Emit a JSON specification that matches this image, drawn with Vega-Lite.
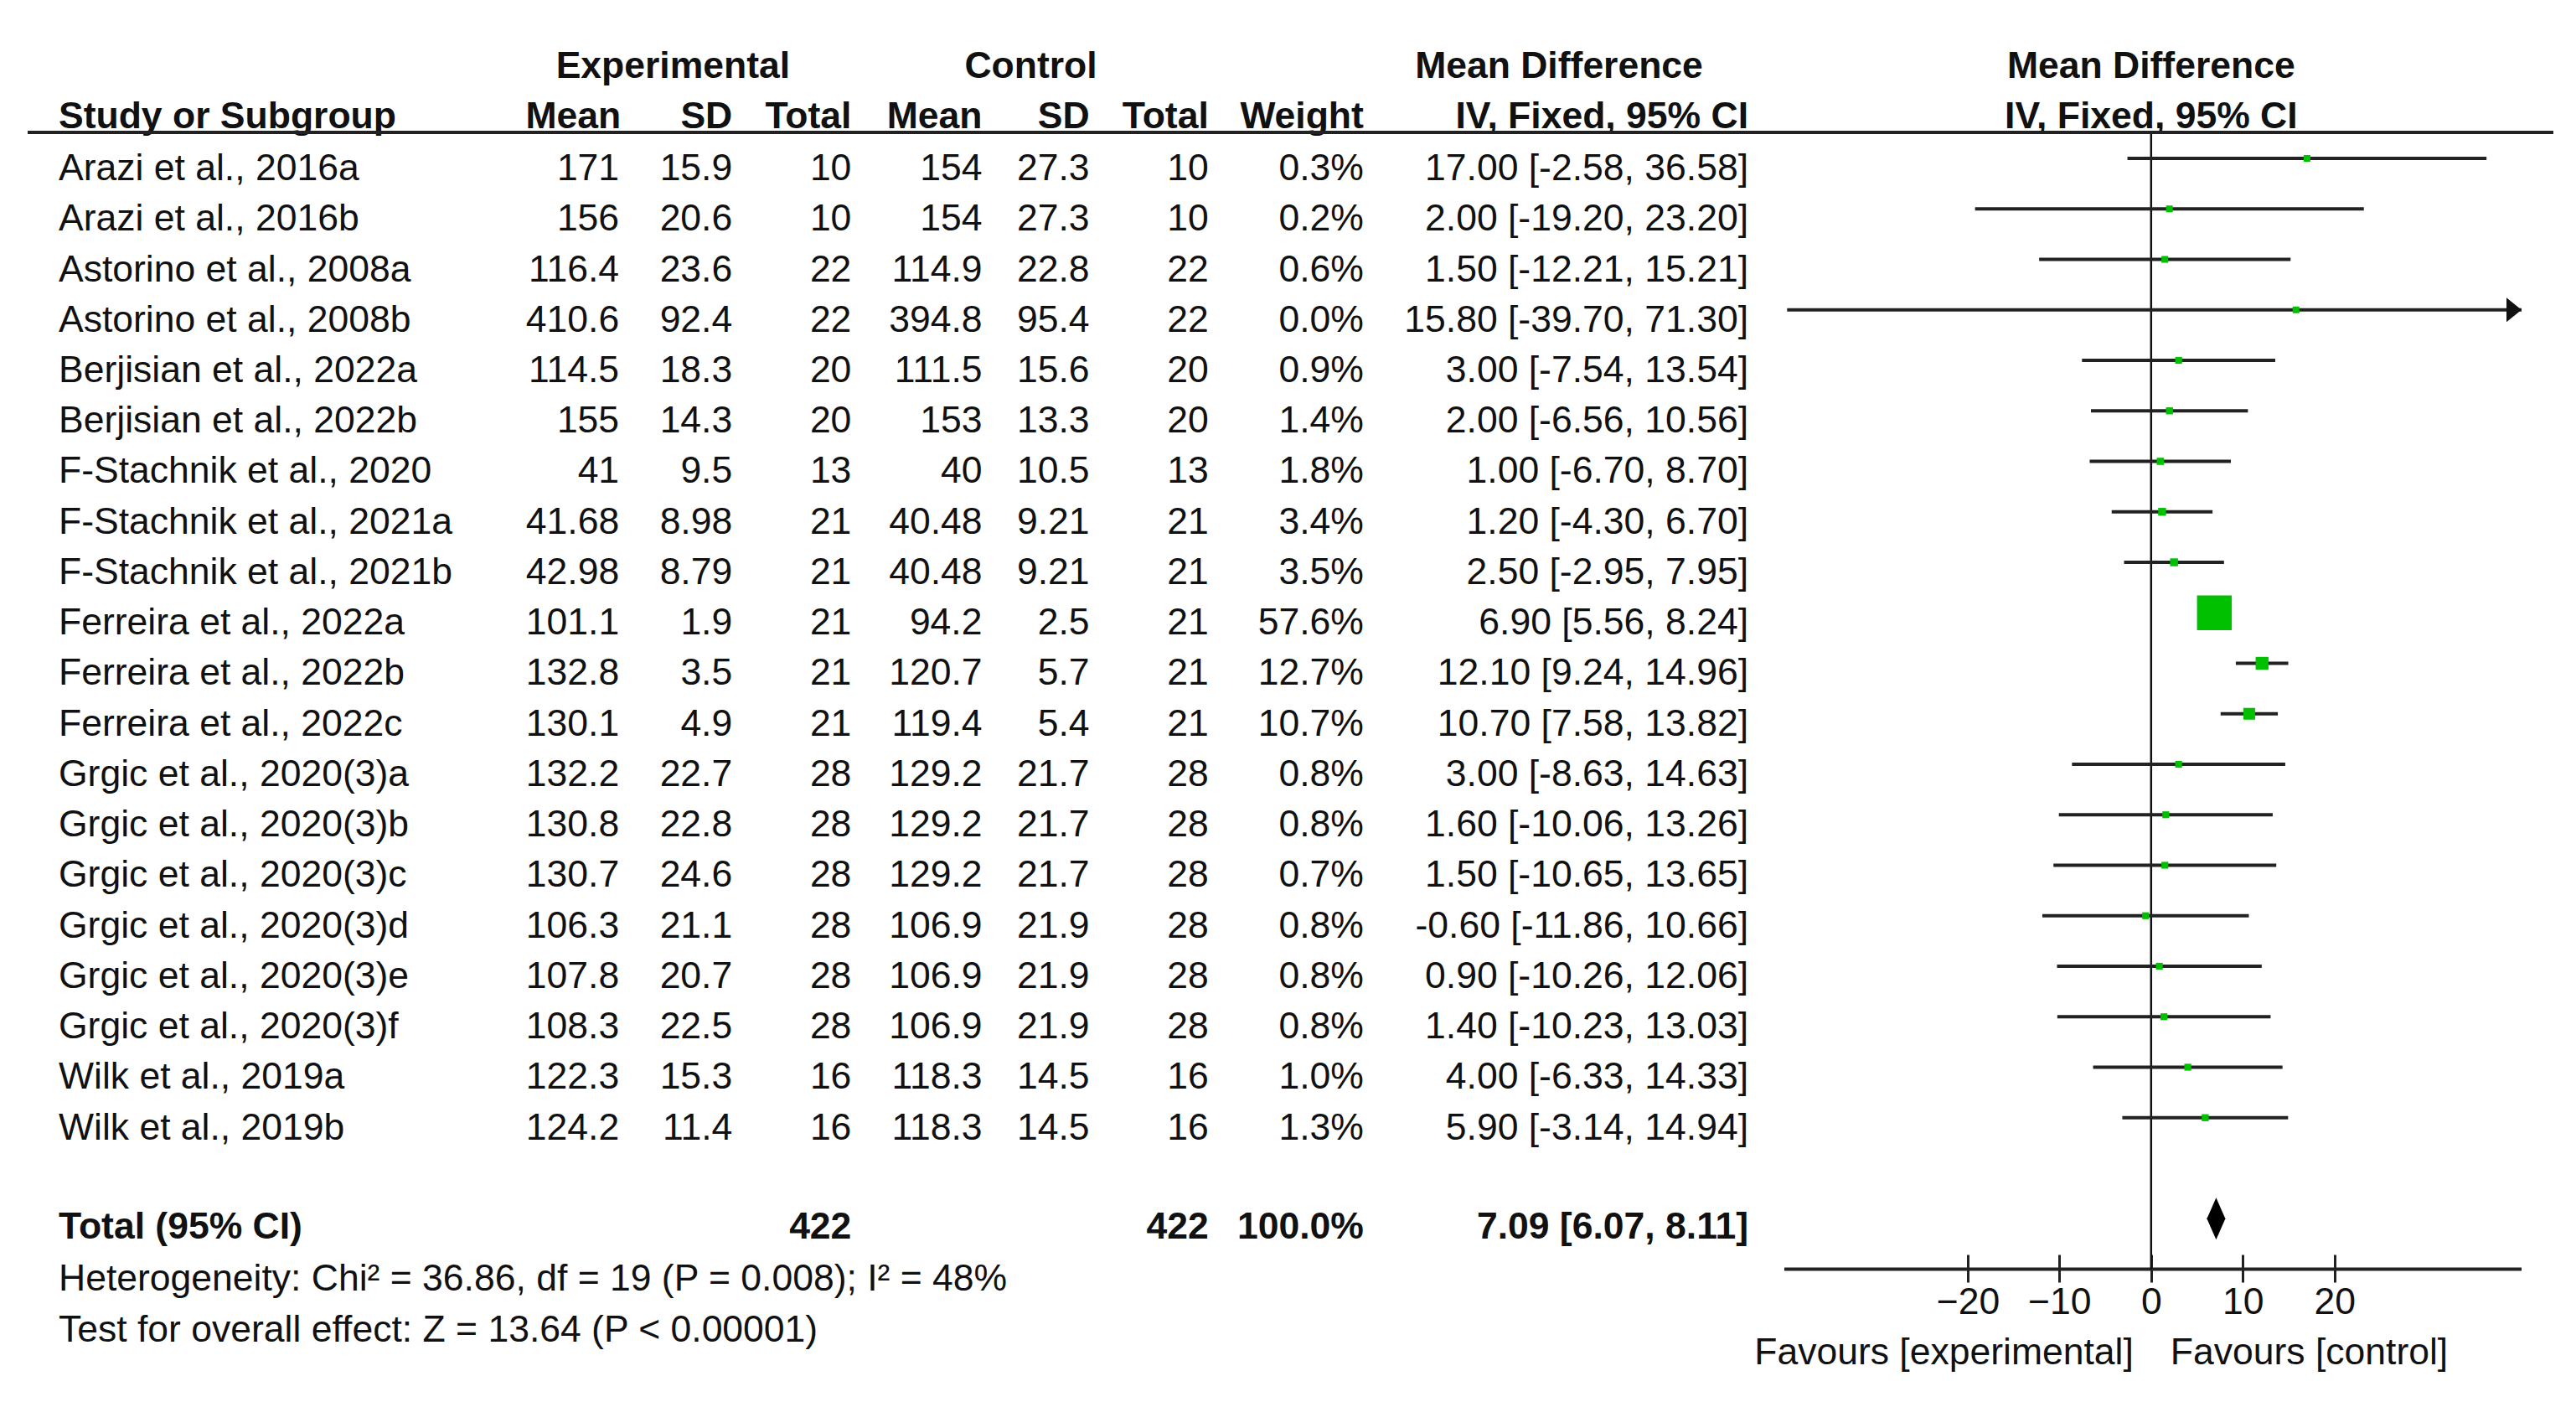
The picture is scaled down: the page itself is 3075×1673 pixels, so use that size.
{
  "$schema": "https://vega.github.io/schema/vega-lite/v6.json",
  "width": 3015,
  "height": 1673,
  "autosize": {"type": "none"},
  "padding": {"left": 33, "right": 27, "top": 0, "bottom": 0},
  "background": "white",
  "config": {
    "view": {"stroke": null},
    "text": {"font": "Liberation Sans, Arial, sans-serif", "fontSize": 44.5, "color": "#111111"}
  },
  "datasets": {
    "table": [
      {"kind": "header", "row": 0, "study": "Study or Subgroup", "mean_e": "Mean", "sd_e": "SD", "total_e": "Total", "mean_c": "Mean", "sd_c": "SD", "total_c": "Total", "weight": "Weight", "ci": "IV, Fixed, 95% CI"},
      {"kind": "study", "row": 1, "study": "Arazi et al., 2016a", "mean_e": 171, "sd_e": 15.9, "total_e": 10, "mean_c": 154, "sd_c": 27.3, "total_c": 10, "weight": "0.3%", "ci": "17.00 [-2.58, 36.58]", "w": 0.3, "md": 17.0, "lo": -2.58, "hi": 36.58},
      {"kind": "study", "row": 2, "study": "Arazi et al., 2016b", "mean_e": 156, "sd_e": 20.6, "total_e": 10, "mean_c": 154, "sd_c": 27.3, "total_c": 10, "weight": "0.2%", "ci": "2.00 [-19.20, 23.20]", "w": 0.2, "md": 2.0, "lo": -19.2, "hi": 23.2},
      {"kind": "study", "row": 3, "study": "Astorino et al., 2008a", "mean_e": 116.4, "sd_e": 23.6, "total_e": 22, "mean_c": 114.9, "sd_c": 22.8, "total_c": 22, "weight": "0.6%", "ci": "1.50 [-12.21, 15.21]", "w": 0.6, "md": 1.5, "lo": -12.21, "hi": 15.21},
      {"kind": "study", "row": 4, "study": "Astorino et al., 2008b", "mean_e": 410.6, "sd_e": 92.4, "total_e": 22, "mean_c": 394.8, "sd_c": 95.4, "total_c": 22, "weight": "0.0%", "ci": "15.80 [-39.70, 71.30]", "w": 0.0, "md": 15.8, "lo": -39.7, "hi": 71.3},
      {"kind": "study", "row": 5, "study": "Berjisian et al., 2022a", "mean_e": 114.5, "sd_e": 18.3, "total_e": 20, "mean_c": 111.5, "sd_c": 15.6, "total_c": 20, "weight": "0.9%", "ci": "3.00 [-7.54, 13.54]", "w": 0.9, "md": 3.0, "lo": -7.54, "hi": 13.54},
      {"kind": "study", "row": 6, "study": "Berjisian et al., 2022b", "mean_e": 155, "sd_e": 14.3, "total_e": 20, "mean_c": 153, "sd_c": 13.3, "total_c": 20, "weight": "1.4%", "ci": "2.00 [-6.56, 10.56]", "w": 1.4, "md": 2.0, "lo": -6.56, "hi": 10.56},
      {"kind": "study", "row": 7, "study": "F-Stachnik et al., 2020", "mean_e": 41, "sd_e": 9.5, "total_e": 13, "mean_c": 40, "sd_c": 10.5, "total_c": 13, "weight": "1.8%", "ci": "1.00 [-6.70, 8.70]", "w": 1.8, "md": 1.0, "lo": -6.7, "hi": 8.7},
      {"kind": "study", "row": 8, "study": "F-Stachnik et al., 2021a", "mean_e": 41.68, "sd_e": 8.98, "total_e": 21, "mean_c": 40.48, "sd_c": 9.21, "total_c": 21, "weight": "3.4%", "ci": "1.20 [-4.30, 6.70]", "w": 3.4, "md": 1.2, "lo": -4.3, "hi": 6.7},
      {"kind": "study", "row": 9, "study": "F-Stachnik et al., 2021b", "mean_e": 42.98, "sd_e": 8.79, "total_e": 21, "mean_c": 40.48, "sd_c": 9.21, "total_c": 21, "weight": "3.5%", "ci": "2.50 [-2.95, 7.95]", "w": 3.5, "md": 2.5, "lo": -2.95, "hi": 7.95},
      {"kind": "study", "row": 10, "study": "Ferreira et al., 2022a", "mean_e": 101.1, "sd_e": 1.9, "total_e": 21, "mean_c": 94.2, "sd_c": 2.5, "total_c": 21, "weight": "57.6%", "ci": "6.90 [5.56, 8.24]", "w": 57.6, "md": 6.9, "lo": 5.56, "hi": 8.24},
      {"kind": "study", "row": 11, "study": "Ferreira et al., 2022b", "mean_e": 132.8, "sd_e": 3.5, "total_e": 21, "mean_c": 120.7, "sd_c": 5.7, "total_c": 21, "weight": "12.7%", "ci": "12.10 [9.24, 14.96]", "w": 12.7, "md": 12.1, "lo": 9.24, "hi": 14.96},
      {"kind": "study", "row": 12, "study": "Ferreira et al., 2022c", "mean_e": 130.1, "sd_e": 4.9, "total_e": 21, "mean_c": 119.4, "sd_c": 5.4, "total_c": 21, "weight": "10.7%", "ci": "10.70 [7.58, 13.82]", "w": 10.7, "md": 10.7, "lo": 7.58, "hi": 13.82},
      {"kind": "study", "row": 13, "study": "Grgic et al., 2020(3)a", "mean_e": 132.2, "sd_e": 22.7, "total_e": 28, "mean_c": 129.2, "sd_c": 21.7, "total_c": 28, "weight": "0.8%", "ci": "3.00 [-8.63, 14.63]", "w": 0.8, "md": 3.0, "lo": -8.63, "hi": 14.63},
      {"kind": "study", "row": 14, "study": "Grgic et al., 2020(3)b", "mean_e": 130.8, "sd_e": 22.8, "total_e": 28, "mean_c": 129.2, "sd_c": 21.7, "total_c": 28, "weight": "0.8%", "ci": "1.60 [-10.06, 13.26]", "w": 0.8, "md": 1.6, "lo": -10.06, "hi": 13.26},
      {"kind": "study", "row": 15, "study": "Grgic et al., 2020(3)c", "mean_e": 130.7, "sd_e": 24.6, "total_e": 28, "mean_c": 129.2, "sd_c": 21.7, "total_c": 28, "weight": "0.7%", "ci": "1.50 [-10.65, 13.65]", "w": 0.7, "md": 1.5, "lo": -10.65, "hi": 13.65},
      {"kind": "study", "row": 16, "study": "Grgic et al., 2020(3)d", "mean_e": 106.3, "sd_e": 21.1, "total_e": 28, "mean_c": 106.9, "sd_c": 21.9, "total_c": 28, "weight": "0.8%", "ci": "-0.60 [-11.86, 10.66]", "w": 0.8, "md": -0.6, "lo": -11.86, "hi": 10.66},
      {"kind": "study", "row": 17, "study": "Grgic et al., 2020(3)e", "mean_e": 107.8, "sd_e": 20.7, "total_e": 28, "mean_c": 106.9, "sd_c": 21.9, "total_c": 28, "weight": "0.8%", "ci": "0.90 [-10.26, 12.06]", "w": 0.8, "md": 0.9, "lo": -10.26, "hi": 12.06},
      {"kind": "study", "row": 18, "study": "Grgic et al., 2020(3)f", "mean_e": 108.3, "sd_e": 22.5, "total_e": 28, "mean_c": 106.9, "sd_c": 21.9, "total_c": 28, "weight": "0.8%", "ci": "1.40 [-10.23, 13.03]", "w": 0.8, "md": 1.4, "lo": -10.23, "hi": 13.03},
      {"kind": "study", "row": 19, "study": "Wilk et al., 2019a", "mean_e": 122.3, "sd_e": 15.3, "total_e": 16, "mean_c": 118.3, "sd_c": 14.5, "total_c": 16, "weight": "1.0%", "ci": "4.00 [-6.33, 14.33]", "w": 1.0, "md": 4.0, "lo": -6.33, "hi": 14.33},
      {"kind": "study", "row": 20, "study": "Wilk et al., 2019b", "mean_e": 124.2, "sd_e": 11.4, "total_e": 16, "mean_c": 118.3, "sd_c": 14.5, "total_c": 16, "weight": "1.3%", "ci": "5.90 [-3.14, 14.94]", "w": 1.3, "md": 5.9, "lo": -3.14, "hi": 14.94},
      {"kind": "total", "row": 22, "study": "Total (95% CI)", "mean_e": "", "sd_e": "", "total_e": 422, "mean_c": "", "sd_c": "", "total_c": 422, "weight": "100.0%", "ci": "7.09 [6.07, 8.11]", "w": 100, "md": 7.09, "lo": 6.07, "hi": 8.11}
    ],
    "notes": [
      {"row": 23, "label": "Heterogeneity: Chi² = 36.86, df = 19 (P = 0.008); I² = 48%"},
      {"row": 24, "label": "Test for overall effect: Z = 13.64 (P < 0.00001)"}
    ],
    "groups": [
      {"row": -1, "group": "Experimental"},
      {"row": -1, "group": "Control"},
      {"row": -1, "group": "Mean Difference"}
    ],
    "plotheads": [
      {"row": -1, "label": "Mean Difference"},
      {"row": 0, "label": "IV, Fixed, 95% CI"}
    ],
    "favours": [
      {"row": 24.5, "side": "experimental", "label": "Favours [experimental]"},
      {"row": 24.5, "side": "control", "label": "Favours [control]"}
    ],
    "lines": [
      {"name": "header", "y": 0.485},
      {"name": "zero", "x": 0, "y": 0.485, "y2": 23},
      {"name": "axis", "x": -40, "x2": 40.4, "y": 23}
    ]
  },
  "layer": [
    {
      "layer": [
        {
          "data": {"name": "lines"},
          "transform": [{"filter": "datum.name == 'axis'"}],
          "mark": {"type": "rule", "strokeWidth": 4, "color": "#222222"},
          "encoding": {
            "x": {
              "field": "x",
              "type": "quantitative",
              "scale": {"domain": [-40, 40.4], "range": [2097, 2977], "clamp": true, "nice": false, "zero": false},
              "axis": {
                "orient": "bottom",
                "values": [-20, -10, 0, 10, 20],
                "offset": -176,
                "domain": false,
                "grid": false,
                "title": null,
                "ticks": true,
                "labels": true,
                "tickSize": 33,
                "tickWidth": 3,
                "tickColor": "#222222",
                "labelFont": "Liberation Sans, Arial, sans-serif",
                "labelFontSize": 44.5,
                "labelColor": "#111111",
                "labelPadding": 2,
                "labelFlush": false,
                "labelOverlap": false
              }
            },
            "x2": {"field": "x2"},
            "y": {"field": "y", "type": "quantitative", "scale": {"domain": [-2.137, 25.631], "reverse": true, "nice": false, "zero": false}, "axis": null}
          }
        },
        {
          "data": {"name": "lines"},
          "transform": [{"filter": "datum.name == 'zero'"}],
          "mark": {"type": "rule", "strokeWidth": 2.5, "color": "#111111"},
          "encoding": {
            "x": {"field": "x", "type": "quantitative"},
            "y": {"field": "y", "type": "quantitative", "axis": null},
            "y2": {"field": "y2"}
          }
        },
        {
          "data": {"name": "table"},
          "transform": [{"filter": "datum.kind == 'study'"}],
          "mark": {"type": "rule", "strokeWidth": 4, "color": "#222222"},
          "encoding": {
            "x": {"field": "lo", "type": "quantitative"},
            "x2": {"field": "hi"},
            "y": {"field": "row", "type": "quantitative", "axis": null}
          }
        },
        {
          "data": {"name": "table"},
          "transform": [{"filter": "datum.kind == 'study' && datum.hi > 40.4"}],
          "mark": {"type": "point", "shape": "M-2,-1.6L0,0L-2,1.6Z", "size": 324, "filled": true, "opacity": 1, "color": "#111111", "strokeWidth": 0},
          "encoding": {
            "x": {"field": "hi", "type": "quantitative"},
            "y": {"field": "row", "type": "quantitative", "axis": null}
          }
        },
        {
          "data": {"name": "table"},
          "transform": [{"filter": "datum.kind == 'study'"}],
          "mark": {"type": "point", "shape": "square", "filled": true, "opacity": 1, "color": "#00c000", "strokeWidth": 0},
          "encoding": {
            "x": {"field": "md", "type": "quantitative"},
            "y": {"field": "row", "type": "quantitative", "axis": null},
            "size": {"field": "w", "type": "quantitative", "scale": {"type": "pow", "exponent": 1.5, "domain": [0, 57.6], "range": [64, 1722]}, "legend": null}
          }
        },
        {
          "data": {"name": "table"},
          "transform": [{"filter": "datum.kind == 'total'"}],
          "mark": {"type": "point", "shape": "M-1,0L0,-2.27L1,0L0,2.27Z", "size": 484, "filled": true, "opacity": 1, "color": "#000000", "strokeWidth": 0},
          "encoding": {
            "x": {"field": "md", "type": "quantitative"},
            "y": {"field": "row", "type": "quantitative", "axis": null}
          }
        },
        {
          "data": {"name": "plotheads"},
          "mark": {"type": "text", "align": "center", "baseline": "alphabetic", "dy": 24, "fontWeight": "bold"},
          "encoding": {
            "x": {"datum": 0, "type": "quantitative"},
            "y": {"field": "row", "type": "quantitative", "axis": null},
            "text": {"field": "label", "type": "nominal"}
          }
        },
        {
          "data": {"name": "favours"},
          "transform": [{"filter": "datum.side == 'experimental'"}],
          "mark": {"type": "text", "align": "right", "baseline": "alphabetic", "dx": -21, "dy": 23},
          "encoding": {
            "x": {"datum": 0, "type": "quantitative"},
            "y": {"field": "row", "type": "quantitative", "axis": null},
            "text": {"field": "label", "type": "nominal"}
          }
        },
        {
          "data": {"name": "favours"},
          "transform": [{"filter": "datum.side == 'control'"}],
          "mark": {"type": "text", "align": "left", "baseline": "alphabetic", "dx": 23, "dy": 23},
          "encoding": {
            "x": {"datum": 0, "type": "quantitative"},
            "y": {"field": "row", "type": "quantitative", "axis": null},
            "text": {"field": "label", "type": "nominal"}
          }
        }
      ]
    },
    {
      "layer": [
        {
          "data": {"name": "table"},
          "transform": [{"filter": "datum.kind == 'study'"}],
          "mark": {"type": "text", "align": "left", "baseline": "alphabetic", "dx": 0, "dy": 26},
          "encoding": {
            "x": {"datum": "study", "type": "nominal", "scale": {"type": "point", "domain": ["study", "mean_e", "sd_e", "total_e", "mean_c", "sd_c", "total_c", "weight", "ci"], "range": [37, 2054], "padding": 0}, "axis": null},
            "y": {"field": "row", "type": "quantitative", "axis": null},
            "text": {"field": "study", "type": "nominal"}
          }
        },
        {
          "data": {"name": "table"},
          "transform": [{"filter": "datum.kind != 'study'"}],
          "mark": {"type": "text", "align": "left", "baseline": "alphabetic", "dx": 0, "dy": 24, "fontWeight": "bold"},
          "encoding": {
            "x": {"datum": "study", "type": "nominal", "axis": null},
            "y": {"field": "row", "type": "quantitative", "axis": null},
            "text": {"field": "study", "type": "nominal"}
          }
        },
        {
          "data": {"name": "table"},
          "transform": [{"filter": "datum.kind == 'study'"}],
          "mark": {"type": "text", "align": "right", "baseline": "alphabetic", "dx": 417, "dy": 26},
          "encoding": {
            "x": {"datum": "mean_e", "type": "nominal", "axis": null},
            "y": {"field": "row", "type": "quantitative", "axis": null},
            "text": {"field": "mean_e", "type": "nominal"}
          }
        },
        {
          "data": {"name": "table"},
          "transform": [{"filter": "datum.kind != 'study'"}],
          "mark": {"type": "text", "align": "right", "baseline": "alphabetic", "dx": 419, "dy": 24, "fontWeight": "bold"},
          "encoding": {
            "x": {"datum": "mean_e", "type": "nominal", "axis": null},
            "y": {"field": "row", "type": "quantitative", "axis": null},
            "text": {"field": "mean_e", "type": "nominal"}
          }
        },
        {
          "data": {"name": "table"},
          "transform": [{"filter": "datum.kind == 'study'"}],
          "mark": {"type": "text", "align": "right", "baseline": "alphabetic", "dx": 300, "dy": 26},
          "encoding": {
            "x": {"datum": "sd_e", "type": "nominal", "axis": null},
            "y": {"field": "row", "type": "quantitative", "axis": null},
            "text": {"field": "sd_e", "type": "nominal"}
          }
        },
        {
          "data": {"name": "table"},
          "transform": [{"filter": "datum.kind != 'study'"}],
          "mark": {"type": "text", "align": "right", "baseline": "alphabetic", "dx": 300, "dy": 24, "fontWeight": "bold"},
          "encoding": {
            "x": {"datum": "sd_e", "type": "nominal", "axis": null},
            "y": {"field": "row", "type": "quantitative", "axis": null},
            "text": {"field": "sd_e", "type": "nominal"}
          }
        },
        {
          "data": {"name": "table"},
          "transform": [{"filter": "datum.kind == 'study'"}],
          "mark": {"type": "text", "align": "right", "baseline": "alphabetic", "dx": 190, "dy": 26},
          "encoding": {
            "x": {"datum": "total_e", "type": "nominal", "axis": null},
            "y": {"field": "row", "type": "quantitative", "axis": null},
            "text": {"field": "total_e", "type": "nominal"}
          }
        },
        {
          "data": {"name": "table"},
          "transform": [{"filter": "datum.kind != 'study'"}],
          "mark": {"type": "text", "align": "right", "baseline": "alphabetic", "dx": 190, "dy": 24, "fontWeight": "bold"},
          "encoding": {
            "x": {"datum": "total_e", "type": "nominal", "axis": null},
            "y": {"field": "row", "type": "quantitative", "axis": null},
            "text": {"field": "total_e", "type": "nominal"}
          }
        },
        {
          "data": {"name": "table"},
          "transform": [{"filter": "datum.kind == 'study'"}],
          "mark": {"type": "text", "align": "right", "baseline": "alphabetic", "dx": 94, "dy": 26},
          "encoding": {
            "x": {"datum": "mean_c", "type": "nominal", "axis": null},
            "y": {"field": "row", "type": "quantitative", "axis": null},
            "text": {"field": "mean_c", "type": "nominal"}
          }
        },
        {
          "data": {"name": "table"},
          "transform": [{"filter": "datum.kind != 'study'"}],
          "mark": {"type": "text", "align": "right", "baseline": "alphabetic", "dx": 94, "dy": 24, "fontWeight": "bold"},
          "encoding": {
            "x": {"datum": "mean_c", "type": "nominal", "axis": null},
            "y": {"field": "row", "type": "quantitative", "axis": null},
            "text": {"field": "mean_c", "type": "nominal"}
          }
        },
        {
          "data": {"name": "table"},
          "transform": [{"filter": "datum.kind == 'study'"}],
          "mark": {"type": "text", "align": "right", "baseline": "alphabetic", "dx": -30, "dy": 26},
          "encoding": {
            "x": {"datum": "sd_c", "type": "nominal", "axis": null},
            "y": {"field": "row", "type": "quantitative", "axis": null},
            "text": {"field": "sd_c", "type": "nominal"}
          }
        },
        {
          "data": {"name": "table"},
          "transform": [{"filter": "datum.kind != 'study'"}],
          "mark": {"type": "text", "align": "right", "baseline": "alphabetic", "dx": -30, "dy": 24, "fontWeight": "bold"},
          "encoding": {
            "x": {"datum": "sd_c", "type": "nominal", "axis": null},
            "y": {"field": "row", "type": "quantitative", "axis": null},
            "text": {"field": "sd_c", "type": "nominal"}
          }
        },
        {
          "data": {"name": "table"},
          "transform": [{"filter": "datum.kind == 'study'"}],
          "mark": {"type": "text", "align": "right", "baseline": "alphabetic", "dx": -140, "dy": 26},
          "encoding": {
            "x": {"datum": "total_c", "type": "nominal", "axis": null},
            "y": {"field": "row", "type": "quantitative", "axis": null},
            "text": {"field": "total_c", "type": "nominal"}
          }
        },
        {
          "data": {"name": "table"},
          "transform": [{"filter": "datum.kind != 'study'"}],
          "mark": {"type": "text", "align": "right", "baseline": "alphabetic", "dx": -140, "dy": 24, "fontWeight": "bold"},
          "encoding": {
            "x": {"datum": "total_c", "type": "nominal", "axis": null},
            "y": {"field": "row", "type": "quantitative", "axis": null},
            "text": {"field": "total_c", "type": "nominal"}
          }
        },
        {
          "data": {"name": "table"},
          "transform": [{"filter": "datum.kind == 'study'"}],
          "mark": {"type": "text", "align": "right", "baseline": "alphabetic", "dx": -207, "dy": 26},
          "encoding": {
            "x": {"datum": "weight", "type": "nominal", "axis": null},
            "y": {"field": "row", "type": "quantitative", "axis": null},
            "text": {"field": "weight", "type": "nominal"}
          }
        },
        {
          "data": {"name": "table"},
          "transform": [{"filter": "datum.kind != 'study'"}],
          "mark": {"type": "text", "align": "right", "baseline": "alphabetic", "dx": -207, "dy": 24, "fontWeight": "bold"},
          "encoding": {
            "x": {"datum": "weight", "type": "nominal", "axis": null},
            "y": {"field": "row", "type": "quantitative", "axis": null},
            "text": {"field": "weight", "type": "nominal"}
          }
        },
        {
          "data": {"name": "table"},
          "transform": [{"filter": "datum.kind == 'study'"}],
          "mark": {"type": "text", "align": "right", "baseline": "alphabetic", "dx": 0, "dy": 26},
          "encoding": {
            "x": {"datum": "ci", "type": "nominal", "axis": null},
            "y": {"field": "row", "type": "quantitative", "axis": null},
            "text": {"field": "ci", "type": "nominal"}
          }
        },
        {
          "data": {"name": "table"},
          "transform": [{"filter": "datum.kind != 'study'"}],
          "mark": {"type": "text", "align": "right", "baseline": "alphabetic", "dx": 0, "dy": 24, "fontWeight": "bold"},
          "encoding": {
            "x": {"datum": "ci", "type": "nominal", "axis": null},
            "y": {"field": "row", "type": "quantitative", "axis": null},
            "text": {"field": "ci", "type": "nominal"}
          }
        },
        {
          "data": {"name": "groups"},
          "transform": [{"filter": "datum.group == 'Experimental'"}],
          "mark": {"type": "text", "align": "center", "baseline": "alphabetic", "dx": -23, "dy": 24, "fontWeight": "bold"},
          "encoding": {
            "x": {"datum": "total_e", "type": "nominal", "axis": null},
            "y": {"field": "row", "type": "quantitative", "axis": null},
            "text": {"field": "group", "type": "nominal"}
          }
        },
        {
          "data": {"name": "groups"},
          "transform": [{"filter": "datum.group == 'Control'"}],
          "mark": {"type": "text", "align": "center", "baseline": "alphabetic", "dx": 152, "dy": 24, "fontWeight": "bold"},
          "encoding": {
            "x": {"datum": "mean_c", "type": "nominal", "axis": null},
            "y": {"field": "row", "type": "quantitative", "axis": null},
            "text": {"field": "group", "type": "nominal"}
          }
        },
        {
          "data": {"name": "groups"},
          "transform": [{"filter": "datum.group == 'Mean Difference'"}],
          "mark": {"type": "text", "align": "center", "baseline": "alphabetic", "dx": -226, "dy": 24, "fontWeight": "bold"},
          "encoding": {
            "x": {"datum": "ci", "type": "nominal", "axis": null},
            "y": {"field": "row", "type": "quantitative", "axis": null},
            "text": {"field": "group", "type": "nominal"}
          }
        },
        {
          "data": {"name": "notes"},
          "mark": {"type": "text", "align": "left", "baseline": "alphabetic", "dx": 0, "dy": 26},
          "encoding": {
            "x": {"datum": "study", "type": "nominal", "axis": null},
            "y": {"field": "row", "type": "quantitative", "axis": null},
            "text": {"field": "label", "type": "nominal"}
          }
        }
      ]
    },
    {
      "data": {"name": "lines"},
      "transform": [{"filter": "datum.name == 'header'"}],
      "mark": {"type": "rule", "strokeWidth": 4, "color": "#222222"},
      "encoding": {
        "y": {"field": "y", "type": "quantitative", "axis": null}
      }
    }
  ],
  "resolve": {"scale": {"x": "independent"}}
}
